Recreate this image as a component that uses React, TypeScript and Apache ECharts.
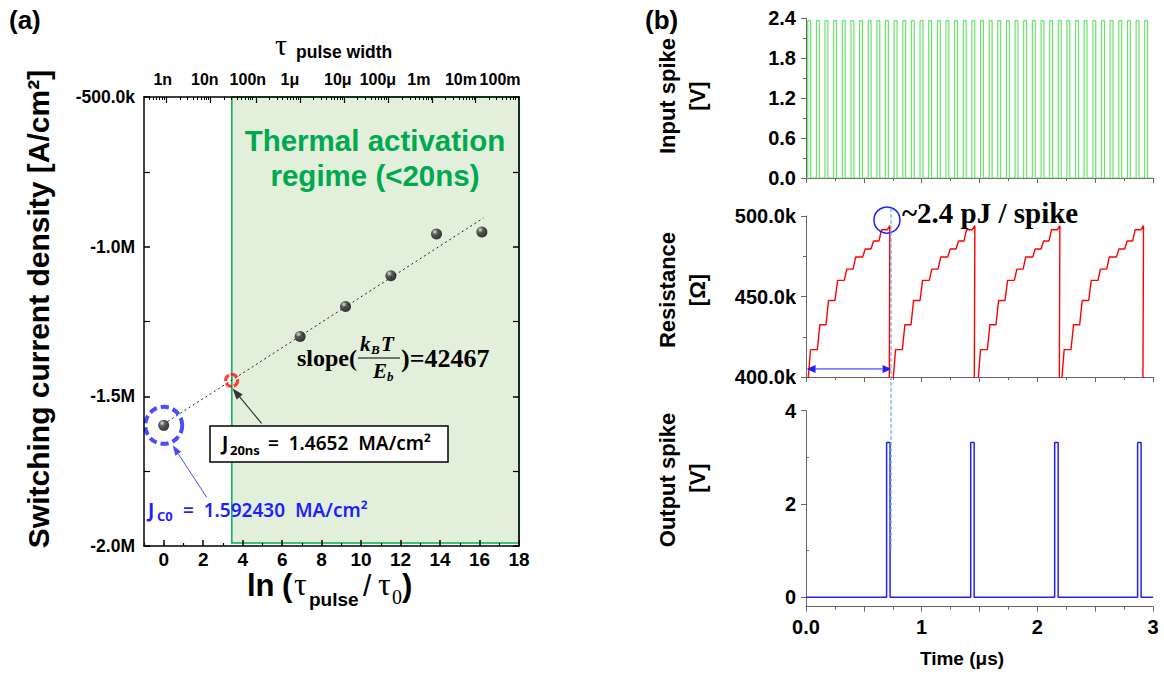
import React, { useEffect, useRef } from "react";
import * as echarts from "echarts";

// ---------------- Panel (a) data ----------------
const J_LN_TAU = [0, 6.91, 9.21, 11.51, 13.82, 16.12];
const J_SW = [-1.597e6, -1.3e6, -1.2e6, -1.097e6, -0.958e6, -0.951e6];
const J20_LN_TAU = 3.44;
const J20_SW = -1.447e6;
const FIT_LN_TAU = [0.2, 16.2];
const FIT_SW = [-1.584e6, -0.904e6];
const REGIME_LN_TAU = [3.45, 18];
const REGIME_SW = [-1.99e6, -0.5e6];
const BOTTOM_MAJOR = [0, 2, 4, 6, 8, 10, 12, 14, 16, 18];
const BOTTOM_MINOR = [-1, 1, 3, 5, 7, 9, 11, 13, 15, 17];
const TOP_LABELS = ["1n", "10n", "100n", "1μ", "10μ", "100μ", "1m", "10m", "100m"];
const TOP_LABEL_POS = [-0.05, 2.08, 4.26, 6.39, 8.82, 10.85, 12.93, 15.06, 17.04];
const TOP_DECADE_POS = [-2.1, 0.14, 2.37, 4.67, 6.9, 9.15, 11.4, 13.6, 15.8];
const TOP_DECADE_SPAN = 2.24;

// ---------------- Panel (b) data ----------------
const INPUT_PULSE_START_US = [
  0.015, 0.09, 0.164, 0.239, 0.314, 0.389, 0.463, 0.538, 0.613, 0.687,
  0.762, 0.837, 0.911, 0.986, 1.061, 1.136, 1.21, 1.285, 1.36, 1.434,
  1.509, 1.584, 1.658, 1.733, 1.808, 1.882, 1.957, 2.032, 2.107, 2.181,
  2.256, 2.331, 2.405, 2.48, 2.555, 2.629, 2.704, 2.779, 2.854, 2.928,
];
const INPUT_PULSE_WIDTH_US = 0.025;
const INPUT_PULSE_V = 2.36;

const RES_CYCLE_START_US = [0.017, 0.752, 1.487, 2.21];
const RES_STEP_OFFSET_US = [0, 0.081, 0.156, 0.234, 0.314, 0.39, 0.473, 0.545, 0.614, 0.686];
const RES_STEP_LEVEL_K = [417, 432.5, 447.5, 460, 467, 474.5, 479.5, 484.5, 491.5, 494];
const RES_RESET_OFFSET_US = 0.703;
const RES_FLOOR_K = 397;
const RES_RISE_US = 0.022;

const OUT_SPIKE_START_US = [0.697, 1.424, 2.15, 2.867];
const OUT_SPIKE_WIDTH_US = 0.03;
const OUT_SPIKE_V = 3.32;

// annotation anchors (data coordinates)
const ENERGY_MARK = [0.7, 497.5e3];
const SPIKE_LINE_T = 0.735;
const DELAY_ARROW_T = [0.005, 0.74];
const DELAY_ARROW_R = 405e3;

const SANS = '"Liberation Sans", Arial, sans-serif';
const SERIF = '"Liberation Serif", "Times New Roman", serif';
const KR = '"Noto Sans", "Noto Sans CJK KR", sans-serif';
const GREEN = "#00a850";
const BLUE = "#1f1fff";

function buildInput() {
  const d: number[][] = [[0, 0]];
  INPUT_PULSE_START_US.forEach((t) => {
    d.push([t, 0], [t, INPUT_PULSE_V], [t + INPUT_PULSE_WIDTH_US, INPUT_PULSE_V], [t + INPUT_PULSE_WIDTH_US, 0]);
  });
  d.push([3, 0]);
  return d;
}
function buildRes() {
  const d: number[][] = [[0, RES_FLOOR_K * 1000]];
  RES_CYCLE_START_US.forEach((c) => {
    let prev = RES_FLOOR_K;
    RES_STEP_OFFSET_US.forEach((o, i) => {
      d.push([c + o, prev * 1000], [c + o + RES_RISE_US, RES_STEP_LEVEL_K[i] * 1000]);
      prev = RES_STEP_LEVEL_K[i];
    });
    d.push([c + RES_RESET_OFFSET_US, prev * 1000], [c + RES_RESET_OFFSET_US, RES_FLOOR_K * 1000]);
  });
  d.push([3, RES_FLOOR_K * 1000]);
  return d;
}
function buildOut() {
  const d: number[][] = [[0, 0]];
  OUT_SPIKE_START_US.forEach((t) => {
    d.push([t, 0], [t, OUT_SPIKE_V], [t + OUT_SPIKE_WIDTH_US, OUT_SPIKE_V], [t + OUT_SPIKE_WIDTH_US, 0]);
  });
  d.push([3, 0]);
  return d;
}

const topMinor: number[] = [];
TOP_DECADE_POS.forEach((p) => {
  for (let m = 2; m <= 9; m++) {
    const v = p + Math.log10(m) * TOP_DECADE_SPAN;
    if (v > -1 && v < 18) topMinor.push(v);
  }
});
const topMajor = TOP_DECADE_POS.filter((v) => v > -1 && v < 18);

const blackLine = { show: true, onZero: false, lineStyle: { color: "#000", width: 1.5 } };
const grayLine = { show: true, onZero: false, lineStyle: { color: "#666", width: 1 } };
const lbl = (size: number, extra: any = {}) => ({
  fontFamily: SANS, fontSize: size, fontWeight: "bold", color: "#000", ...extra,
});
const noSplit = { show: false };

function buildOption(): any {
  const sphere = new echarts.graphic.RadialGradient(0.35, 0.3, 0.75, [
    { offset: 0, color: "#e0e0e0" },
    { offset: 0.35, color: "#333" },
    { offset: 1, color: "#000" },
  ]);
  const rightX = (grid: number, labels: boolean) => ({
    gridIndex: grid, type: "value", position: "bottom", min: 0, max: 3, interval: 0.5,
    axisLine: grayLine, splitLine: noSplit,
    axisTick: { show: true, length: 5, lineStyle: { color: "#666" } },
    minorTick: { show: true, splitNumber: 2, length: 3, lineStyle: { color: "#666" } },
    axisLabel: labels
      ? lbl(20, { margin: 10, formatter: (v: number) => (v === 0 ? "0.0" : Number.isInteger(v) ? String(v) : "") })
      : { show: false },
  });
  return {
    animation: false,
    backgroundColor: "#fff",
    grid: [
      { left: 144, top: 97, width: 375, height: 449 },
      { left: 806, top: 18, width: 347, height: 160 },
      { left: 806, top: 216, width: 347, height: 161 },
      { left: 806, top: 410.7, width: 347, height: 196 },
    ],
    xAxis: [
      {
        gridIndex: 0, type: "value", position: "bottom", min: -1, max: 18, z: 5,
        axisLine: blackLine, splitLine: noSplit,
        axisTick: { show: true, inside: true, length: 6, lineStyle: { color: "#000", width: 1.5 }, customValues: BOTTOM_MAJOR },
        axisLabel: lbl(19, { margin: 4, customValues: BOTTOM_MAJOR }),
      },
      {
        gridIndex: 0, type: "value", position: "bottom", min: -1, max: 18, z: 5,
        axisLine: { show: false }, splitLine: noSplit,
        axisTick: { show: true, inside: true, length: 3, lineStyle: { color: "#000", width: 1.2 }, customValues: BOTTOM_MINOR },
        axisLabel: { show: false },
      },
      {
        gridIndex: 0, type: "value", position: "top", min: -1, max: 18, z: 5,
        axisLine: blackLine, splitLine: noSplit,
        axisTick: { show: true, inside: true, length: 6, lineStyle: { color: "#000", width: 1.2 }, customValues: topMajor },
        axisLabel: { show: false },
      },
      {
        gridIndex: 0, type: "value", position: "top", min: -1, max: 18, z: 5,
        axisLine: { show: false }, splitLine: noSplit,
        axisTick: { show: true, inside: true, length: 3, lineStyle: { color: "#000", width: 1 }, customValues: topMinor },
        axisLabel: { show: false },
      },
      {
        gridIndex: 0, type: "value", position: "top", min: -1, max: 18, z: 5,
        axisLine: { show: false }, splitLine: noSplit, axisTick: { show: false },
        axisLabel: lbl(16, {
          margin: 10, customValues: TOP_LABEL_POS,
          formatter: (v: number) => {
            let best = 0;
            TOP_LABEL_POS.forEach((p, i) => { if (Math.abs(p - v) < Math.abs(TOP_LABEL_POS[best] - v)) best = i; });
            return TOP_LABELS[best];
          },
        }),
      },
      rightX(1, false),
      rightX(2, false),
      rightX(3, true),
    ],
    yAxis: [
      {
        gridIndex: 0, type: "value", position: "left", min: -2e6, max: -0.5e6, interval: 0.5e6, z: 5,
        axisLine: blackLine, splitLine: noSplit,
        axisTick: { show: true, inside: true, length: 6, lineStyle: { color: "#000", width: 1.5 } },
        minorTick: { show: true, splitNumber: 2, length: 6, lineStyle: { color: "#000", width: 1.2 } },
        axisLabel: lbl(17.5, {
          margin: 9,
          formatter: (v: number) => (Math.abs(v) < 1e6 ? (v / 1000).toFixed(1) + "k" : (v / 1e6).toFixed(1) + "M"),
        }),
      },
      {
        gridIndex: 0, type: "value", position: "right", min: -2e6, max: -0.5e6, interval: 0.5e6, z: 5,
        axisLine: blackLine, splitLine: noSplit,
        axisTick: { show: true, inside: true, length: 6, lineStyle: { color: "#000", width: 1.5 } },
        minorTick: { show: true, splitNumber: 2, length: 6, lineStyle: { color: "#000", width: 1.2 } },
        axisLabel: { show: false },
      },
      {
        gridIndex: 1, type: "value", min: 0, max: 2.4, interval: 0.6,
        axisLine: grayLine, splitLine: noSplit,
        axisTick: { show: true, length: 5, lineStyle: { color: "#666" } },
        minorTick: { show: true, splitNumber: 2, length: 3, lineStyle: { color: "#666" } },
        axisLabel: lbl(20, { margin: 10, formatter: (v: number) => v.toFixed(1) }),
      },
      {
        gridIndex: 2, type: "value", min: 400e3, max: 500e3, interval: 50e3,
        axisLine: grayLine, splitLine: noSplit,
        axisTick: { show: true, length: 5, lineStyle: { color: "#666" } },
        minorTick: { show: true, splitNumber: 2, length: 3, lineStyle: { color: "#666" } },
        axisLabel: lbl(20, { margin: 10, formatter: (v: number) => (v / 1000).toFixed(1) + "k" }),
      },
      {
        gridIndex: 3, type: "value", min: -0.2, max: 4,
        axisLine: grayLine, splitLine: noSplit,
        axisTick: { show: true, length: 5, lineStyle: { color: "#666" }, customValues: [0, 2, 4] },
        axisLabel: lbl(20, { margin: 10, customValues: [0, 2, 4] }),
      },
      {
        gridIndex: 3, type: "value", min: -0.2, max: 4,
        axisLine: { show: false }, splitLine: noSplit,
        axisTick: { show: true, length: 3, lineStyle: { color: "#666" }, customValues: [1, 3] },
        axisLabel: { show: false },
      },
    ],
    series: [
      {
        type: "line", xAxisIndex: 0, yAxisIndex: 0, data: [], silent: true, z: 1,
        markArea: {
          silent: true,
          itemStyle: { color: "#e2efda", borderColor: "#00b050", borderWidth: 1.5 },
          data: [[
            { xAxis: REGIME_LN_TAU[0], yAxis: REGIME_SW[0] },
            { xAxis: REGIME_LN_TAU[1], yAxis: REGIME_SW[1] },
          ]],
        },
      },
      {
        type: "line", xAxisIndex: 0, yAxisIndex: 0, z: 3, symbol: "none",
        data: FIT_LN_TAU.map((x, i) => [x, FIT_SW[i]]),
        lineStyle: { color: "#222", width: 1, type: [2, 3] },
      },
      {
        type: "scatter", xAxisIndex: 0, yAxisIndex: 0, z: 4, symbolSize: 37,
        data: [[J_LN_TAU[0], J_SW[0]]],
        itemStyle: { color: "rgba(0,0,0,0)", borderColor: BLUE, borderWidth: 4, borderType: [8, 4] },
      },
      {
        type: "scatter", xAxisIndex: 0, yAxisIndex: 0, z: 4, symbolSize: 12,
        data: [[J20_LN_TAU, J20_SW]],
        itemStyle: { color: "rgba(0,0,0,0)", borderColor: "#ff1010", borderWidth: 3.2, borderType: [7, 2] },
      },
      {
        type: "scatter", xAxisIndex: 0, yAxisIndex: 0, z: 6, symbolSize: 11,
        data: J_LN_TAU.map((x, i) => [x, J_SW[i]]),
        itemStyle: { color: sphere },
      },
      {
        type: "line", xAxisIndex: 5, yAxisIndex: 2, symbol: "none",
        data: buildInput(), lineStyle: { color: "#6be36b", width: 1.2 },
      },
      {
        type: "line", xAxisIndex: 6, yAxisIndex: 3, symbol: "none",
        data: buildRes(), lineStyle: { color: "#ff0000", width: 1.4 },
      },
      {
        type: "line", xAxisIndex: 7, yAxisIndex: 4, symbol: "none",
        data: buildOut(), lineStyle: { color: "#2222ee", width: 1.5 },
      },
    ],
  };
}

function T(text: string, x: number, y: number, size: number, opts: any = {}) {
  const align = opts.align || "left";
  const va = opts.va || "middle";
  return {
    type: "text", x, y, rotation: opts.rotation || 0, z: 100,
    style: {
      text, fill: opts.color || "#000", fontSize: size, fontFamily: opts.family || SANS,
      fontWeight: opts.weight || "bold", fontStyle: opts.style || "normal",
      align, textAlign: align, verticalAlign: va, textVerticalAlign: va,
    },
  };
}

function arrow(x1: number, y1: number, x2: number, y2: number, color: string, w: number, hl: number, hw: number) {
  const a = Math.atan2(y2 - y1, x2 - x1);
  const bx = x2 - hl * Math.cos(a), by = y2 - hl * Math.sin(a);
  const px = (-Math.sin(a) * hw) / 2, py = (Math.cos(a) * hw) / 2;
  return [
    { type: "line", z: 100, shape: { x1, y1, x2: bx, y2: by }, style: { stroke: color, lineWidth: w } },
    { type: "polygon", z: 100, shape: { points: [[x2, y2], [bx + px, by + py], [bx - px, by - py]] }, style: { fill: color } },
  ];
}

function buildGraphics(chart: any) {
  const pA = (x: number, y: number) => chart.convertToPixel({ gridIndex: 0 }, [x, y]);
  const pR = (x: number, y: number) => chart.convertToPixel({ gridIndex: 2 }, [x, y]);
  const pO = (x: number, y: number) => chart.convertToPixel({ gridIndex: 3 }, [x, y]);
  const red = pA(J20_LN_TAU, J20_SW);
  const jc0 = pA(J_LN_TAU[0], J_SW[0]);
  const em = pR(ENERGY_MARK[0], ENERGY_MARK[1]);
  const sTop = pR(SPIKE_LINE_T, 505e3);
  const sBot = pO(SPIKE_LINE_T, 1.0);
  const d0 = pR(DELAY_ARROW_T[0], DELAY_ARROW_R);
  const d1 = pR(DELAY_ARROW_T[1], DELAY_ARROW_R);
  const g: any[] = [
    T("(a)", 9, 20, 26),
    T("(b)", 645, 20, 26),
    // top axis title
    T("τ", 281, 44, 30, { family: SERIF, weight: "normal", align: "center" }),
    T("pulse width", 296, 52, 17.5),
    // y title
    T("Switching current density [A/cm²]", 38, 309, 30, { rotation: Math.PI / 2, align: "center" }),
    // x title
    T("ln", 247, 585, 31),
    T("(", 282, 585, 31),
    T("τ", 294, 584, 32, { family: SERIF, weight: "normal" }),
    T("pulse", 309, 599, 19),
    T("/", 363, 585, 30, { weight: "normal" }),
    T("τ", 378, 584, 32, { family: SERIF, weight: "normal" }),
    T("0", 392, 597, 20, { family: SERIF, weight: "normal" }),
    T(")", 402, 585, 31),
    // regime text
    T("Thermal activation", 375, 140, 29.5, { color: GREEN, align: "center" }),
    T("regime (<20ns)", 375, 175, 29.5, { color: GREEN, align: "center" }),
    // slope text
    T("slope(", 297, 358, 24, { family: SERIF }),
    T("k", 360, 344, 21, { family: SERIF, style: "italic" }),
    T("B", 371, 349, 13, { family: SERIF, style: "italic" }),
    T("T", 381, 344, 21, { family: SERIF, style: "italic" }),
    { type: "line", z: 100, shape: { x1: 358, y1: 358, x2: 400, y2: 358 }, style: { stroke: "#000", lineWidth: 1.2 } },
    T("E", 373, 371, 21, { family: SERIF, style: "italic" }),
    T("b", 387, 376, 13, { family: SERIF, style: "italic" }),
    T(")=42467", 401, 358, 26, { family: SERIF }),
    // J20ns box
    { type: "rect", z: 99, shape: { x: 210, y: 426, width: 238, height: 36 }, style: { fill: "#fff", stroke: "#000", lineWidth: 1.5 } },
    T("J", 222, 443, 19, { family: KR }),
    T("20ns", 230, 450, 13, { family: KR }),
    T("=  1.4652  MA/cm²", 268, 443, 19, { family: KR, weight: 600 }),
    // Jc0 text
    T("J", 148, 510, 19, { family: KR, color: BLUE }),
    T("C0", 157, 516, 13, { family: KR, color: BLUE }),
    T("=  1.592430  MA/cm²", 183, 510, 19, { family: KR, color: BLUE, weight: 600 }),
    ...arrow(red[0] + 30, red[1] + 43, red[0] + 1, red[1] + 8, "#333", 1.2, 11, 8),
    ...arrow(jc0[0] + 43, jc0[1] + 72, jc0[0] + 9, jc0[1] + 20, "#4a4aff", 1, 10, 7),
    // panel (b) titles
    T("Input spike", 667, 96, 22, { rotation: Math.PI / 2, align: "center" }),
    T("[V]", 697, 96, 22, { rotation: Math.PI / 2, align: "center" }),
    T("Resistance", 667, 290, 22, { rotation: Math.PI / 2, align: "center" }),
    T("[Ω]", 697, 290, 22, { rotation: Math.PI / 2, align: "center" }),
    T("Output spike", 667, 480, 22, { rotation: Math.PI / 2, align: "center" }),
    T("[V]", 697, 478, 22, { rotation: Math.PI / 2, align: "center" }),
    T("Time (μs)", 962, 658, 19, { align: "center" }),
    T("~2.4 pJ / spike", 902, 213, 29, { family: SERIF }),
    { type: "circle", z: 100, shape: { cx: em[0], cy: em[1], r: 13 }, style: { fill: "none", stroke: BLUE, lineWidth: 1.5 } },
    { type: "line", z: 100, shape: { x1: sTop[0], y1: sTop[1], x2: sBot[0], y2: sBot[1] }, style: { stroke: "#6fa8dc", lineWidth: 1.2, lineDash: [4, 2] } },
    ...arrow((d0[0] + d1[0]) / 2, d0[1], d0[0], d0[1], "#1f1fff", 1, 9, 8),
    ...arrow((d0[0] + d1[0]) / 2, d1[1], d1[0], d1[1], "#1f1fff", 1, 9, 8),
  ];
  return g;
}

export default function App() {
  const ref = useRef<HTMLDivElement>(null);
  useEffect(() => {
    const chart = echarts.init(ref.current as HTMLDivElement, null, { renderer: "svg" });
    chart.setOption(buildOption());
    chart.setOption({ graphic: buildGraphics(chart) });
    return () => chart.dispose();
  }, []);
  return (
    <div
      ref={ref}
      style={{ position: "absolute", left: 0, top: 0, width: 1164, height: 677, background: "#fff" }}
    />
  );
}
